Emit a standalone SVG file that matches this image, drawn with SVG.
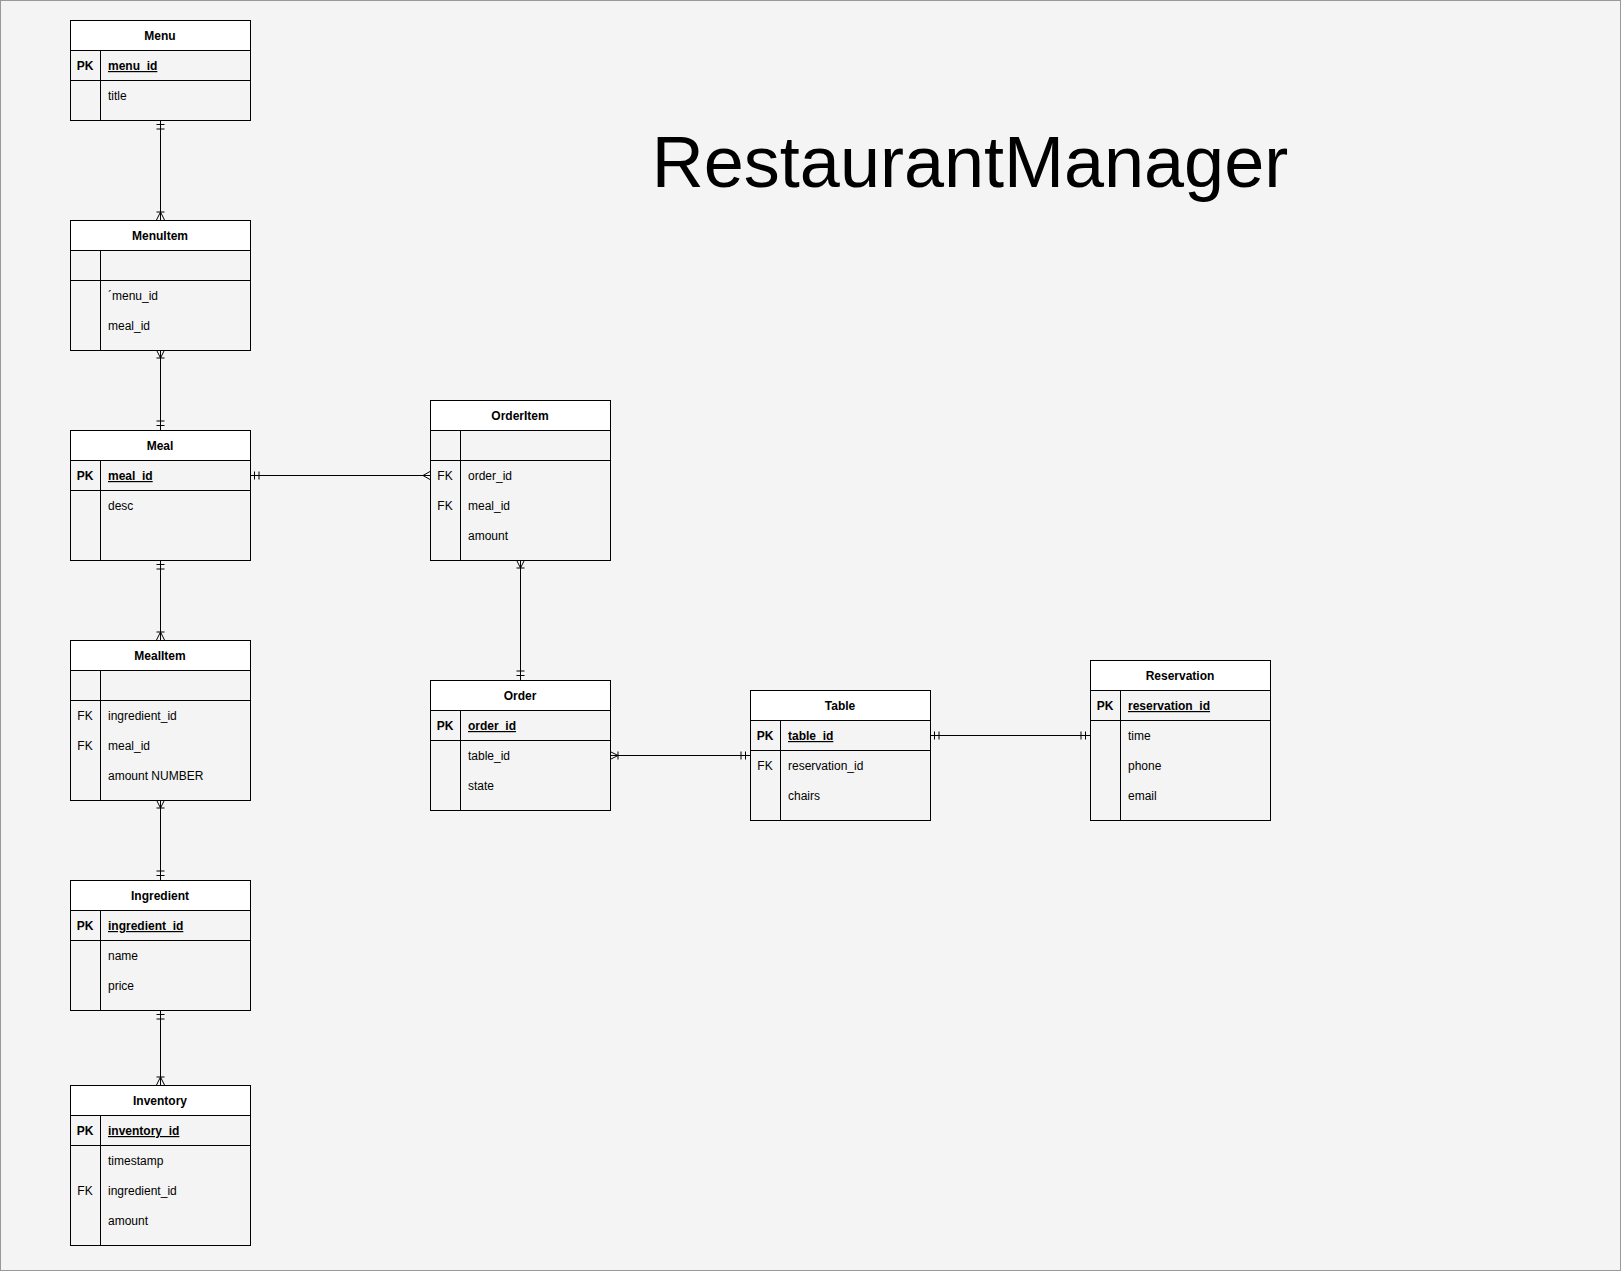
<svg xmlns="http://www.w3.org/2000/svg" width="1621" height="1271" viewBox="0 0 1621 1271">
<style>
text{font-family:"Liberation Sans",Arial,sans-serif;font-size:12px;fill:#000}
.hd{font-weight:bold;text-anchor:middle}
.pk{font-weight:bold;text-anchor:middle}
.fk{text-anchor:middle}
.pkn{font-weight:bold;text-decoration:underline}
.box{fill:none;stroke:#000;stroke-width:1}
.head{fill:#fff;stroke:#000;stroke-width:1}
.ln{stroke:#000;stroke-width:1;fill:none}
.title{font-size:72px;text-anchor:middle}
</style>
<defs>
<marker id="one" markerUnits="userSpaceOnUse" viewBox="0 0 12 10" refX="12" refY="5" markerWidth="12" markerHeight="10" orient="auto-start-reverse">
<path d="M7.5,1V9M3,1V9" stroke="#000" stroke-width="1" fill="none"/>
</marker>
<marker id="oneMany" markerUnits="userSpaceOnUse" viewBox="0 0 12 10" refX="12" refY="5" markerWidth="12" markerHeight="10" orient="auto-start-reverse">
<path d="M12,1L4,5L12,9M4,1V9" stroke="#000" stroke-width="1" fill="none"/>
</marker>
<marker id="many" markerUnits="userSpaceOnUse" viewBox="0 0 12 10" refX="12" refY="5" markerWidth="12" markerHeight="10" orient="auto-start-reverse">
<path d="M12,1L5,5L12,9" stroke="#000" stroke-width="1" fill="none"/>
</marker>
</defs>
<rect x="0.5" y="0.5" width="1620" height="1270" fill="#f4f4f4" stroke="#999"/>
<text class="title" x="970" y="187">RestaurantManager</text>

<g id="connectors">
<path class="ln" d="M160.5,120V220" marker-start="url(#one)" marker-end="url(#oneMany)"/>
<path class="ln" d="M160.5,350V430" marker-start="url(#oneMany)" marker-end="url(#one)"/>
<path class="ln" d="M250,475.5H430" marker-start="url(#one)" marker-end="url(#many)"/>
<path class="ln" d="M160.5,560V640" marker-start="url(#one)" marker-end="url(#oneMany)"/>
<path class="ln" d="M160.5,800V880" marker-start="url(#oneMany)" marker-end="url(#one)"/>
<path class="ln" d="M160.5,1010V1085" marker-start="url(#one)" marker-end="url(#oneMany)"/>
<path class="ln" d="M520.5,560V680" marker-start="url(#oneMany)" marker-end="url(#one)"/>
<path class="ln" d="M610,755.5H750" marker-start="url(#oneMany)" marker-end="url(#one)"/>
<path class="ln" d="M930,735.5H1090" marker-start="url(#one)" marker-end="url(#one)"/>
</g>

<g id="menu">
<rect class="head" x="70.5" y="20.5" width="180" height="30"/>
<rect class="box" x="70.5" y="20.5" width="180" height="100"/>
<path class="ln" d="M70.5,80.5H250.5M100.5,50.5V120.5"/>
<text class="hd" x="160" y="40">Menu</text>
<text class="pk" x="85" y="70">PK</text><text class="pkn" x="108" y="70">menu_id</text>
<text x="108" y="100">title</text>
</g>

<g id="menuitem">
<rect class="head" x="70.5" y="220.5" width="180" height="30"/>
<rect class="box" x="70.5" y="220.5" width="180" height="130"/>
<path class="ln" d="M70.5,280.5H250.5M100.5,250.5V350.5"/>
<text class="hd" x="160" y="240">MenuItem</text>
<text x="108" y="300">´menu_id</text>
<text x="108" y="330">meal_id</text>
</g>

<g id="meal">
<rect class="head" x="70.5" y="430.5" width="180" height="30"/>
<rect class="box" x="70.5" y="430.5" width="180" height="130"/>
<path class="ln" d="M70.5,490.5H250.5M100.5,460.5V560.5"/>
<text class="hd" x="160" y="450">Meal</text>
<text class="pk" x="85" y="480">PK</text><text class="pkn" x="108" y="480">meal_id</text>
<text x="108" y="510">desc</text>
</g>

<g id="orderitem">
<rect class="head" x="430.5" y="400.5" width="180" height="30"/>
<rect class="box" x="430.5" y="400.5" width="180" height="160"/>
<path class="ln" d="M430.5,460.5H610.5M460.5,430.5V560.5"/>
<text class="hd" x="520" y="420">OrderItem</text>
<text class="fk" x="445" y="480">FK</text><text x="468" y="480">order_id</text>
<text class="fk" x="445" y="510">FK</text><text x="468" y="510">meal_id</text>
<text x="468" y="540">amount</text>
</g>

<g id="mealitem">
<rect class="head" x="70.5" y="640.5" width="180" height="30"/>
<rect class="box" x="70.5" y="640.5" width="180" height="160"/>
<path class="ln" d="M70.5,700.5H250.5M100.5,670.5V800.5"/>
<text class="hd" x="160" y="660">MealItem</text>
<text class="fk" x="85" y="720">FK</text><text x="108" y="720">ingredient_id</text>
<text class="fk" x="85" y="750">FK</text><text x="108" y="750">meal_id</text>
<text x="108" y="780">amount NUMBER</text>
</g>

<g id="ingredient">
<rect class="head" x="70.5" y="880.5" width="180" height="30"/>
<rect class="box" x="70.5" y="880.5" width="180" height="130"/>
<path class="ln" d="M70.5,940.5H250.5M100.5,910.5V1010.5"/>
<text class="hd" x="160" y="900">Ingredient</text>
<text class="pk" x="85" y="930">PK</text><text class="pkn" x="108" y="930">ingredient_id</text>
<text x="108" y="960">name</text>
<text x="108" y="990">price</text>
</g>

<g id="inventory">
<rect class="head" x="70.5" y="1085.5" width="180" height="30"/>
<rect class="box" x="70.5" y="1085.5" width="180" height="160"/>
<path class="ln" d="M70.5,1145.5H250.5M100.5,1115.5V1245.5"/>
<text class="hd" x="160" y="1105">Inventory</text>
<text class="pk" x="85" y="1135">PK</text><text class="pkn" x="108" y="1135">inventory_id</text>
<text x="108" y="1165">timestamp</text>
<text class="fk" x="85" y="1195">FK</text><text x="108" y="1195">ingredient_id</text>
<text x="108" y="1225">amount</text>
</g>

<g id="order">
<rect class="head" x="430.5" y="680.5" width="180" height="30"/>
<rect class="box" x="430.5" y="680.5" width="180" height="130"/>
<path class="ln" d="M430.5,740.5H610.5M460.5,710.5V810.5"/>
<text class="hd" x="520" y="700">Order</text>
<text class="pk" x="445" y="730">PK</text><text class="pkn" x="468" y="730">order_id</text>
<text x="468" y="760">table_id</text>
<text x="468" y="790">state</text>
</g>

<g id="table">
<rect class="head" x="750.5" y="690.5" width="180" height="30"/>
<rect class="box" x="750.5" y="690.5" width="180" height="130"/>
<path class="ln" d="M750.5,750.5H930.5M780.5,720.5V820.5"/>
<text class="hd" x="840" y="710">Table</text>
<text class="pk" x="765" y="740">PK</text><text class="pkn" x="788" y="740">table_id</text>
<text class="fk" x="765" y="770">FK</text><text x="788" y="770">reservation_id</text>
<text x="788" y="800">chairs</text>
</g>

<g id="reservation">
<rect class="head" x="1090.5" y="660.5" width="180" height="30"/>
<rect class="box" x="1090.5" y="660.5" width="180" height="160"/>
<path class="ln" d="M1090.5,720.5H1270.5M1120.5,690.5V820.5"/>
<text class="hd" x="1180" y="680">Reservation</text>
<text class="pk" x="1105" y="710">PK</text><text class="pkn" x="1128" y="710">reservation_id</text>
<text x="1128" y="740">time</text>
<text x="1128" y="770">phone</text>
<text x="1128" y="800">email</text>
</g>
</svg>
